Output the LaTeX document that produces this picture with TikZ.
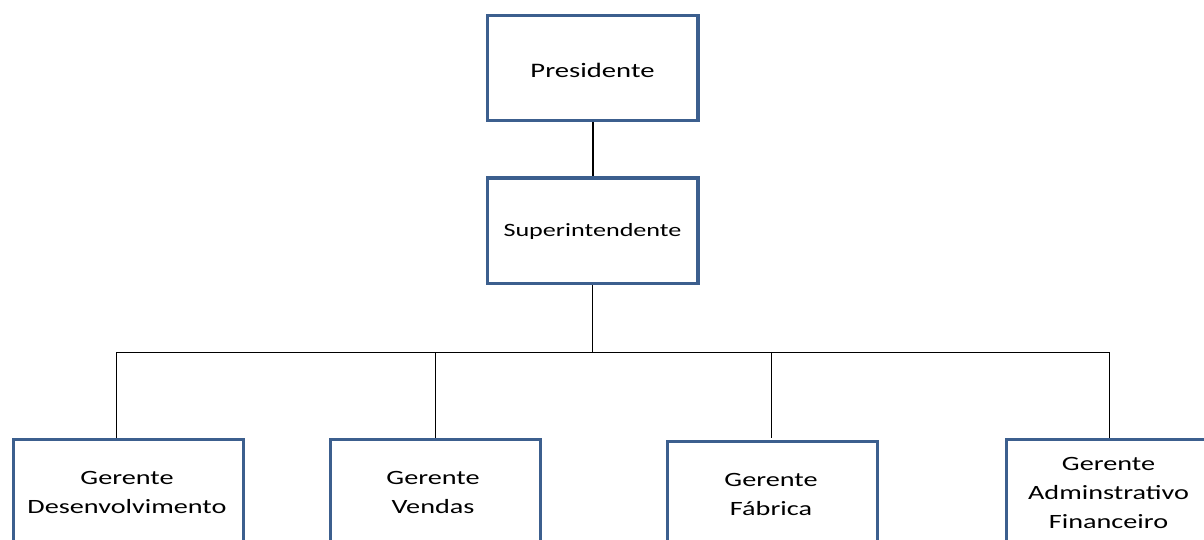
\documentclass[tikz,border=0pt]{standalone}
\usepackage{fontspec}
\newfontfamily\orgfont[FakeStretch=1.39]{Carlito}
\definecolor{boxblue}{RGB}{60,95,142}
\begin{document}
\begin{tikzpicture}[x=1pt,y=-1pt,
  orgbox/.style={draw=boxblue, line width=3.3pt, fill=white, rectangle, inner sep=0pt},
  orgtext/.style={font=\orgfont\fontsize{20.3}{29}\selectfont, align=center, inner sep=0pt},
  link/.style={draw=black, line width=0.85pt},
  trunk/.style={draw=black, line width=1.6pt}]
\useasboundingbox (0,0) rectangle (1204,540);
\clip (0,0) rectangle (1204,540);

% top levels
\node[orgbox, minimum width=210.5pt, minimum height=105pt] (pres) at (592.75,68) {};
\node[orgtext, font=\orgfont\fontsize{20.6}{29}\selectfont] (prest) at (592.5,70) {Presidente};
\node[orgbox, minimum width=210.5pt, minimum height=105.5pt] (sup) at (592.75,230.75) {};
\node[orgtext, font=\orgfont\fontsize{18.8}{29}\selectfont] (supt) at (592.5,231) {Superintendente};

% managers (boxes run past the lower edge)
\node[orgbox, anchor=north west, minimum width=230.5pt, minimum height=160pt] (g1) at (11.5,437.5) {};
\node[orgbox, anchor=north west, minimum width=210pt, minimum height=160pt] (g2) at (329,437.5) {};
\node[orgbox, anchor=north west, minimum width=210.5pt, minimum height=160pt] (g3) at (665.5,439.5) {};
\node[orgbox, anchor=north west, minimum width=210pt, minimum height=160pt] (g4) at (1004.5,437.5) {};

\node[orgtext] (g1t) at (127,492) {Gerente\\Desenvolvimento};
\node[orgtext] (g2t) at (433,492) {Gerente\\Vendas};
\node[orgtext] (g3t) at (771,494) {Gerente\\Fábrica};
\node[orgtext] (g4t) at (1108.5,493) {Gerente\\Adminstrativo\\Financeiro};

% connectors
\coordinate (busL) at (116,352);
\coordinate (busR) at (1109,352);
\coordinate (g3top) at (771,437.8);
\draw[trunk] (pres.south) -- (sup.north);
\draw[link] (sup.south) -- (sup.south |- busL);
\draw[link] (busL) -- (busR);
\draw[link] (busL) -- (busL |- g1.north);
\draw[link] (g2.north |- busL) -- (g2.north);
\draw[link] (g3top |- busL) -- (g3top);
\draw[link] (busR) -- (busR |- g4.north);
\end{tikzpicture}
\end{document}
